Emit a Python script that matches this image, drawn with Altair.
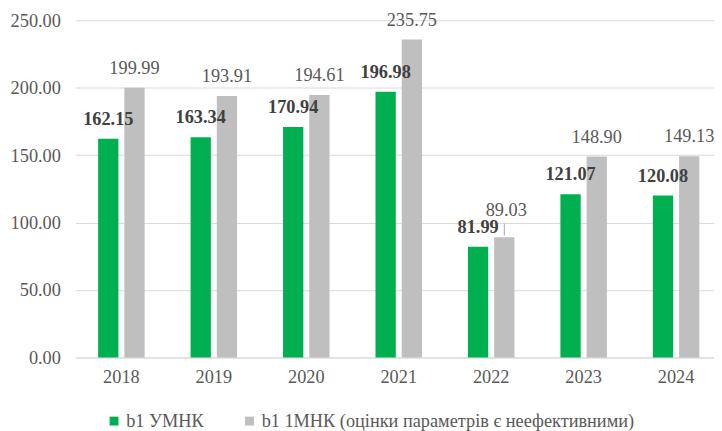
import altair as alt
import pandas as pd

years = ["2018", "2019", "2020", "2021", "2022", "2023", "2024"]
umnk = [162.15, 163.34, 170.94, 196.98, 81.99, 121.07, 120.08]
mnk1 = [199.99, 193.91, 194.61, 235.75, 89.03, 148.90, 149.13]
s1 = "b1 УМНК"
s2 = "b1 1МНК (оцінки параметрів є неефективними)"
y_ticks = [0, 50, 100, 150, 200, 250]

rows = []
for y, a, b in zip(years, umnk, mnk1):
    rows.append({"year": y, "series": s1, "value": a})
    rows.append({"year": y, "series": s2, "value": b})
df = pd.DataFrame(rows)

FONT = "'Times New Roman', 'Liberation Serif', 'DejaVu Serif', serif"
FS = 18.5

x = alt.X("year:N", sort=years, title=None,
          scale=alt.Scale(paddingInner=0.497, paddingOuter=0.203, align=0.61),
          axis=alt.Axis(labelAngle=0, ticks=False, domainColor="#D9D9D9",
                        labelColor="#595959", labelFont=FONT, labelFontSize=FS,
                        labelPadding=10, grid=False))
y = alt.Y("value:Q", title=None,
          scale=alt.Scale(domain=[0, 250], nice=False),
          axis=alt.Axis(values=y_ticks, format=".2f", ticks=False, domain=False,
                        gridColor="#D9D9D9", labelColor="#595959", labelFont=FONT,
                        labelFontSize=FS, labelPadding=15))
xoff = alt.XOffset("series:N", sort=[s1, s2],
                   scale=alt.Scale(domain=[s1, s2], paddingInner=0.226, paddingOuter=0))
color = alt.Color("series:N",
                  scale=alt.Scale(domain=[s1, s2], range=["#00B050", "#BFBFBF"]),
                  legend=alt.Legend(title=None, orient="none", direction="horizontal",
                                    legendX=30, legendY=396, padding=0,
                                    symbolType="square", symbolSize=81,
                                    symbolStrokeWidth=0, labelFont=FONT,
                                    labelFontSize=FS, labelColor="#595959",
                                    labelLimit=600, labelOffset=3,
                                    columnPadding=37))

base = alt.Chart(df)

bars = base.mark_bar().encode(x=x, y=y, xOffset=xoff, color=color)

lab1 = base.transform_filter(alt.datum.series == s1).mark_text(
    font=FONT, fontSize=FS, fontWeight="bold", color="#404040",
    baseline="middle", dy=-20).encode(
    x=x, y=y, xOffset=xoff, text=alt.Text("value:Q", format=".2f"))

lab2 = base.transform_filter(
    (alt.datum.series == s2) & (alt.datum.year != "2022")).mark_text(
    font=FONT, fontSize=FS, color="#595959", baseline="middle", dy=-20).encode(
    x=x, y=y, xOffset=xoff, text=alt.Text("value:Q", format=".2f"))

lab2b = base.transform_filter(
    (alt.datum.series == s2) & (alt.datum.year == "2022")).mark_text(
    font=FONT, fontSize=FS, color="#595959", baseline="middle", dy=-28, dx=2).encode(
    x=x, y=y, xOffset=xoff, text=alt.Text("value:Q", format=".2f"))

leader = base.transform_filter(
    (alt.datum.series == s2) & (alt.datum.year == "2022")).mark_rule(
    color="#A6A6A6", strokeWidth=1, yOffset=-2, y2Offset=-14).encode(
    x=x, y=y, y2=alt.Y2("value:Q"), xOffset=xoff)

chart = alt.layer(bars, lab1, lab2, lab2b, leader).properties(
    width=646, height=341,
    autosize=alt.AutoSizeParams(type="none"),
    padding={"left": 68, "top": 10, "right": 0, "bottom": 72},
).configure_view(stroke=None)

chart.save("out.html", embed_options={"renderer": "svg", "actions": False})
